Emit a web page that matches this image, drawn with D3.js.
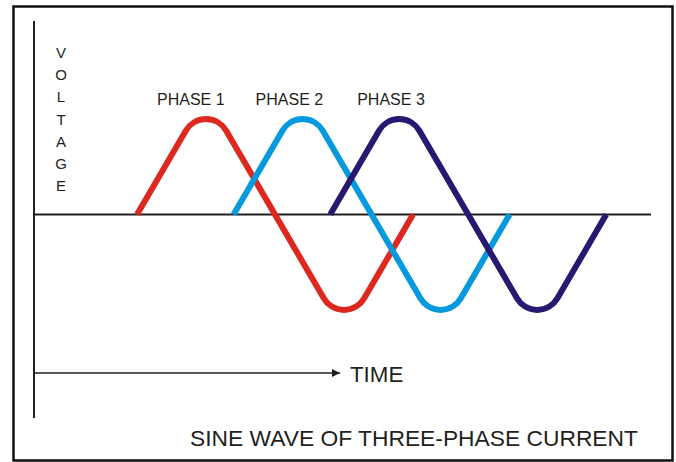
<!DOCTYPE html>
<html><head><meta charset="utf-8">
<script src="https://cdn.jsdelivr.net/npm/d3@7"></script>
<style>html,body{margin:0;padding:0;background:#fff}svg{display:block}</style>
</head><body>
<svg id="c" width="676" height="462"></svg>
<script>
// ---- data ----
const phaseNames = ["PHASE 1", "PHASE 2", "PHASE 3"];
const phaseOffsets = [0, 126, 252];          // degrees
const waveDegrees = [0, 90, 270, 360];       // key points of one cycle
const waveValues = [0, 1, -1, 0];            // triangle apex values (rounded in drawing)
const phaseColors = ["#dc281e", "#0599dd", "#28186f"];
const yLabelLetters = ["V", "O", "L", "T", "A", "G", "E"];
const xLabel = "TIME";
const title = "SINE WAVE OF THREE-PHASE CURRENT";

const FONT = "Liberation Sans, Arial, sans-serif";
const svg = d3.select("#c");
const x = d3.scaleLinear().domain([0, 360]).range([137, 413]);
const y = d3.scaleLinear().domain([-1, 1]).range([333, 96]);
const labelShift = [-49, -47, -42];

// frame
svg.append("rect").attr("x", 13.5).attr("y", 6.5).attr("width", 659).attr("height", 454)
  .attr("fill", "none").attr("stroke", "#111").attr("stroke-width", 2.5);

// axes
svg.append("line").attr("x1", 34).attr("x2", 34).attr("y1", 21).attr("y2", 418)
  .attr("stroke", "#231f20").attr("stroke-width", 2);
svg.append("line").attr("x1", 34).attr("x2", 651).attr("y1", y(0)).attr("y2", y(0))
  .attr("stroke", "#231f20").attr("stroke-width", 2);

// rounded-corner curve
function roundedCurve(context) {
  let pts = [];
  return {
    areaStart() {}, areaEnd() {},
    lineStart() { pts = []; },
    point(px, py) { pts.push([px, py]); },
    lineEnd() {
      if (!pts.length) return;
      context.moveTo(pts[0][0], pts[0][1]);
      for (let i = 1; i < pts.length - 1; i++) {
        context.arcTo(pts[i][0], pts[i][1], pts[i + 1][0], pts[i + 1][1], 23.4);
      }
      const l = pts[pts.length - 1];
      context.lineTo(l[0], l[1]);
    }
  };
}
const line = d3.line().x(d => x(d[0])).y(d => y(d[1])).curve(roundedCurve);

phaseOffsets.forEach((off, i) => {
  const pts = waveDegrees.map((deg, j) => [deg + off, waveValues[j]]);
  svg.append("path").attr("d", line(pts)).attr("fill", "none")
    .attr("stroke", phaseColors[i]).attr("stroke-width", 6).attr("stroke-linecap", "butt");
  svg.append("text").attr("x", x(off + 90) + labelShift[i]).attr("y", 105)
    .attr("font-family", FONT).attr("font-size", 16)
    .attr("fill", "#231f20").text(phaseNames[i]);
});

// voltage label
yLabelLetters.forEach((ch, i) => {
  svg.append("text").attr("x", 61).attr("y", 58 + i * 22.2).attr("text-anchor", "middle")
    .attr("font-family", FONT).attr("font-size", 15)
    .attr("fill", "#231f20").text(ch);
});

// time arrow
svg.append("defs").append("marker").attr("id", "ah").attr("viewBox", "0 0 10 10")
  .attr("refX", 10).attr("refY", 5).attr("markerWidth", 10).attr("markerHeight", 8)
  .attr("markerUnits", "userSpaceOnUse").attr("orient", "auto")
  .append("path").attr("d", "M0,0L10,5L0,10Z").attr("fill", "#231f20");
svg.append("line").attr("x1", 33).attr("x2", 340).attr("y1", 373).attr("y2", 373)
  .attr("stroke", "#231f20").attr("stroke-width", 1.6).attr("marker-end", "url(#ah)");
svg.append("text").attr("x", 350).attr("y", 382)
  .attr("font-family", FONT).attr("font-size", 22.3)
  .attr("fill", "#231f20").text(xLabel);

svg.append("text").attr("x", 190).attr("y", 446)
  .attr("font-family", FONT).attr("font-size", 22.8)
  .attr("fill", "#231f20").text(title);
</script>
</body></html>
